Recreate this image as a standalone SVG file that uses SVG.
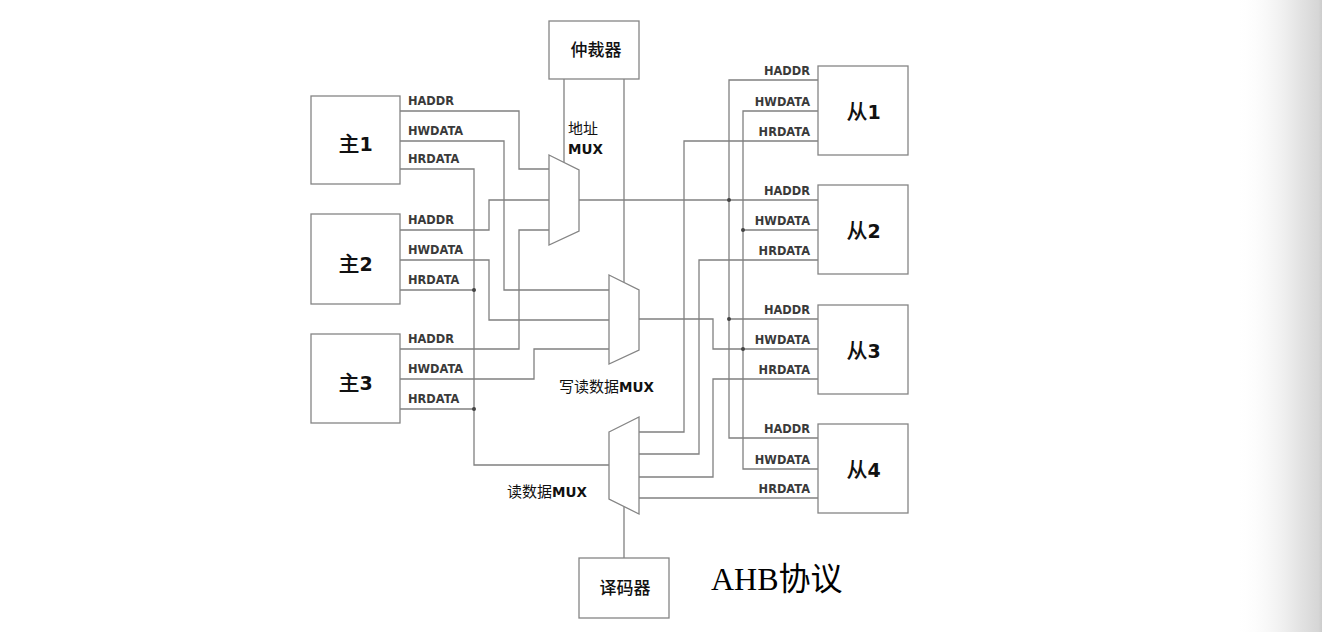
<svg xmlns="http://www.w3.org/2000/svg" width="1322" height="632" viewBox="0 0 1322 632">
<defs>
<linearGradient id="edge" x1="0" y1="0" x2="1" y2="0">
<stop offset="0" stop-color="#ffffff" stop-opacity="0"/>
<stop offset="0.7" stop-color="#e6e6e6"/>
<stop offset="0.96" stop-color="#d6d6d6"/>
<stop offset="1" stop-color="#cccccc"/>
</linearGradient>
<style>
.box{fill:#fff;stroke:#858585;stroke-width:1.3}
.mux{fill:#fff;stroke:#858585;stroke-width:1.3}
.w{fill:none;stroke:#808080;stroke-width:1.3}
.dot{fill:#444}
.sig{font-family:"DejaVu Sans",sans-serif;font-weight:bold;font-size:11.4px;fill:#3a3a3a}
.big{font-family:"Noto Sans CJK SC",sans-serif;font-size:21px;font-weight:500;fill:#111}
.big tspan.n{font-family:"DejaVu Sans","Noto Sans",sans-serif;font-weight:bold;font-size:19px}
.mid{font-family:"Noto Sans CJK SC",sans-serif;font-size:17px;font-weight:500;fill:#111}
.lab{font-family:"Noto Sans CJK SC",sans-serif;font-size:15px;fill:#111}
.lab tspan.m{font-family:"DejaVu Sans",sans-serif;font-weight:bold;font-size:13.5px}
.title{font-family:"Liberation Serif","Noto Sans CJK SC",serif;font-size:32px;fill:#000}
</style>
</defs>
<rect x="0" y="0" width="1322" height="632" fill="#ffffff"/>
<rect x="1235" y="0" width="87" height="632" fill="url(#edge)"/>

<g id="connectors">
<path class="w" d="M564,79 V162.5"/>
<path class="w" d="M624,79 V282.5"/>
<path class="w" d="M624,506.5 V558"/>
<path class="w" d="M400,111 H519 V169 H549"/>
<path class="w" d="M400,141 H504 V290 H609"/>
<path class="w" d="M400,169 H474 V465 H609"/>
<path class="w" d="M400,230 H489 V200 H549"/>
<path class="w" d="M400,260 H489 V320 H609"/>
<path class="w" d="M400,290 H474"/>
<path class="w" d="M400,349 H519 V230 H549"/>
<path class="w" d="M400,379 H534 V349 H609"/>
<path class="w" d="M400,409 H474"/>
<path class="w" d="M579,200 H818"/>
<path class="w" d="M818,80 H729 V438 H818"/>
<path class="w" d="M729,319 H818"/>
<path class="w" d="M639,319 H713 V349 H818"/>
<path class="w" d="M818,111 H743 V469 H818"/>
<path class="w" d="M743,230 H818"/>
<path class="w" d="M818,141 H684 V432 H639"/>
<path class="w" d="M818,260 H699 V454 H639"/>
<path class="w" d="M818,379 H713 V477 H639"/>
<path class="w" d="M818,498 H639"/>
<circle class="dot" cx="474" cy="290" r="2"/>
<circle class="dot" cx="474" cy="409" r="2"/>
<circle class="dot" cx="729" cy="200" r="2"/>
<circle class="dot" cx="729" cy="319" r="2"/>
<circle class="dot" cx="743" cy="230" r="2"/>
<circle class="dot" cx="743" cy="349" r="2"/>
<text class="sig" x="408" y="105">HADDR</text>
<text class="sig" x="408" y="135">HWDATA</text>
<text class="sig" x="408" y="163">HRDATA</text>
<text class="sig" x="408" y="224">HADDR</text>
<text class="sig" x="408" y="254">HWDATA</text>
<text class="sig" x="408" y="284">HRDATA</text>
<text class="sig" x="408" y="343">HADDR</text>
<text class="sig" x="408" y="373">HWDATA</text>
<text class="sig" x="408" y="403">HRDATA</text>
<text class="sig" x="810" y="75" text-anchor="end">HADDR</text>
<text class="sig" x="810" y="106" text-anchor="end">HWDATA</text>
<text class="sig" x="810" y="136" text-anchor="end">HRDATA</text>
<text class="sig" x="810" y="195" text-anchor="end">HADDR</text>
<text class="sig" x="810" y="225" text-anchor="end">HWDATA</text>
<text class="sig" x="810" y="255" text-anchor="end">HRDATA</text>
<text class="sig" x="810" y="314" text-anchor="end">HADDR</text>
<text class="sig" x="810" y="344" text-anchor="end">HWDATA</text>
<text class="sig" x="810" y="374" text-anchor="end">HRDATA</text>
<text class="sig" x="810" y="433" text-anchor="end">HADDR</text>
<text class="sig" x="810" y="464" text-anchor="end">HWDATA</text>
<text class="sig" x="810" y="493" text-anchor="end">HRDATA</text>
</g>

<g id="master1"><rect class="box" x="311" y="96" width="89" height="88"/><text class="big" x="355.5" y="151" text-anchor="middle">主<tspan class="n">1</tspan></text></g>
<g id="master2"><rect class="box" x="311" y="214" width="89" height="90"/><text class="big" x="355.5" y="271" text-anchor="middle">主<tspan class="n">2</tspan></text></g>
<g id="master3"><rect class="box" x="311" y="334" width="89" height="89"/><text class="big" x="355.5" y="390" text-anchor="middle">主<tspan class="n">3</tspan></text></g>

<g id="slave1"><rect class="box" x="818" y="66" width="90" height="89"/><text class="big" x="863.5" y="119" text-anchor="middle">从<tspan class="n">1</tspan></text></g>
<g id="slave2"><rect class="box" x="818" y="185" width="90" height="89"/><text class="big" x="863.5" y="238" text-anchor="middle">从<tspan class="n">2</tspan></text></g>
<g id="slave3"><rect class="box" x="818" y="305" width="90" height="89"/><text class="big" x="863.5" y="358" text-anchor="middle">从<tspan class="n">3</tspan></text></g>
<g id="slave4"><rect class="box" x="818" y="424" width="90" height="89"/><text class="big" x="863.5" y="477" text-anchor="middle">从<tspan class="n">4</tspan></text></g>

<g id="arbiter"><rect class="box" x="549" y="21" width="90" height="58"/><text class="mid" x="596" y="56" text-anchor="middle">仲裁器</text></g>
<g id="decoder"><rect class="box" x="579" y="558" width="90" height="60"/><text class="mid" x="625" y="594" text-anchor="middle">译码器</text></g>

<g id="addr-mux"><polygon class="mux" points="549,155 579,170 579,231 549,245"/><text class="lab" x="568" y="134">地址</text><text class="lab" x="568" y="154"><tspan class="m">MUX</tspan></text></g>
<g id="write-mux"><polygon class="mux" points="609,275 639,290 639,350 609,364"/><text class="lab" x="559" y="392">写读数据<tspan class="m">MUX</tspan></text></g>
<g id="read-mux"><polygon class="mux" points="609,432 639,417 639,514 609,499"/><text class="lab" x="507" y="497">读数据<tspan class="m">MUX</tspan></text></g>

<g id="title"><text class="title" x="711" y="590">AHB协议</text></g>
</svg>
